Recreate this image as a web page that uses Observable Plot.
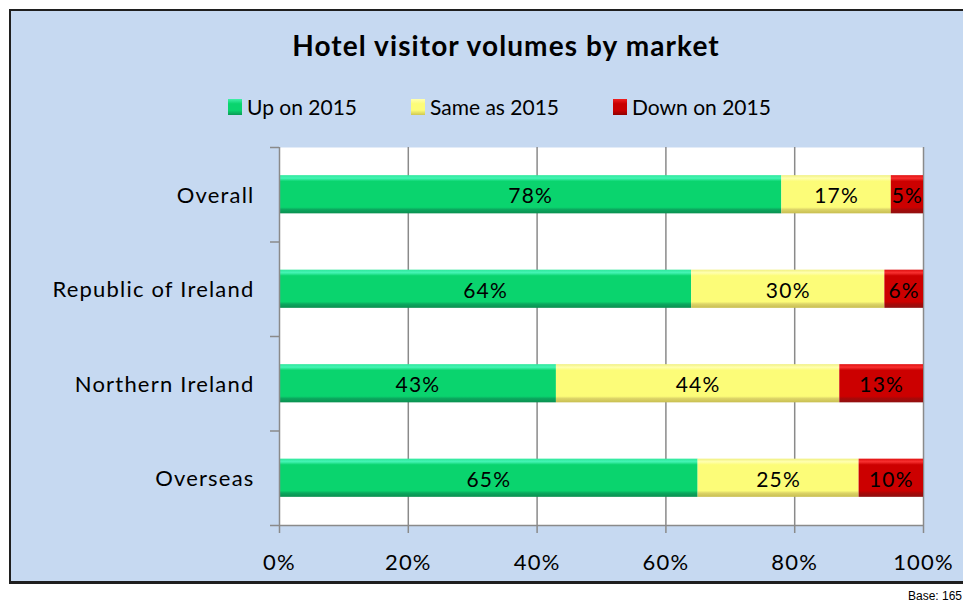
<!DOCTYPE html>
<html>
<head>
<meta charset="utf-8">
<script src="https://cdn.jsdelivr.net/npm/d3@7"></script>
<script src="https://cdn.jsdelivr.net/npm/@observablehq/plot@0.6"></script>
<style>
  html, body { margin: 0; padding: 0; background: #fff; overflow: hidden; }
  #wrap { position: relative; width: 963px; height: 608px; overflow: hidden; font-family: Lato, "Open Sans", sans-serif; }
  #frame { position: absolute; left: 9px; top: 9px; width: 1000px; height: 570px; background: #C6D9F1; border: 2px solid #1f1f1f; border-bottom-width: 3px; box-sizing: content-box; }
  #title { position: absolute; left: 0; width: 1012px; top: 28px; text-align: center; font-weight: bold; font-size: 28px; letter-spacing: 1.1px; color: #000; }
  .leg { position: absolute; top: 94px; font-size: 21px; color: #000; white-space: nowrap; line-height: 26px; }
  .sw { position: absolute; width: 14px; height: 16px; top: 5px; left: -19px; }
  #chart { position: absolute; left: 0; top: 0; }
  #chart svg text { letter-spacing: 1.2px; }
  #base { position: absolute; right: 1px; top: 589px; font-family: "Liberation Sans", Arial, sans-serif; font-size: 12px; color: #000; }
</style>
</head>
<body>
<div id="wrap">
  <div id="frame"></div>
  <div id="title">Hotel visitor volumes by market</div>
  <div id="legend"></div>
  <div id="chart"></div>
  <div id="base">Base: 165</div>
</div>
<script>
const categories = ["Overall", "Republic of Ireland", "Northern Ireland", "Overseas"];
const seriesNames = ["Up on 2015", "Same as 2015", "Down on 2015"];
const upOn2015   = [78, 64, 43, 65];
const sameAs2015 = [17, 30, 44, 25];
const downOn2015 = [5, 6, 13, 10];
const xTickValues = [0, 20, 40, 60, 80, 100];

const seriesValues = [upOn2015, sameAs2015, downOn2015];
const gradIds = ["gGreen", "gYellow", "gRed"];
const legendSwatch = [
  "linear-gradient(#40F0A8, #0AD46E 30%, #0AD46E 70%, #0A9A55)",
  "linear-gradient(#FFFFB0, #FCFC78 30%, #FCFC78 70%, #D0C850)",
  "linear-gradient(#F02020, #C80000 30%, #C80000 70%, #900000)"
];

// build stacked segments
const segments = [];
categories.forEach((c, i) => {
  let acc = 0;
  seriesValues.forEach((vals, s) => {
    const v = vals[i];
    segments.push({cat: c, idx: i, series: s, value: v, x1: acc, x2: acc + v});
    acc += v;
  });
});

const half = 0.202;
const gray = "#8a8a8a";

const marks = [
  Plot.frame({fill: "white", stroke: "none"}),
  Plot.gridX(xTickValues.filter(d => d > 0), {stroke: gray, strokeOpacity: 1, strokeWidth: 1.5}),
];
seriesNames.forEach((name, s) => {
  marks.push(Plot.rectX(segments.filter(d => d.series === s), {
    x1: "x1", x2: "x2",
    y1: d => d.idx - half, y2: d => d.idx + half,
    fill: `url(#${gradIds[s]})`
  }));
});
marks.push(
  Plot.text(segments, {
    x: d => (d.x1 + d.x2) / 2, y: "idx",
    text: d => d.value + "%", fontSize: 21, fill: "black", dy: 2
  }),
  Plot.ruleX([0], {stroke: gray, strokeWidth: 1.5}),
  Plot.ruleY([3.5], {stroke: gray, strokeWidth: 1.5}),
  Plot.axisX({ticks: xTickValues, tickFormat: d => d + "%", tickSize: 8, tickPadding: 21, fontSize: 22, stroke: gray, strokeWidth: 1.5, label: null, color: "black"}),
  Plot.axisY({ticks: [0, 1, 2, 3], tickFormat: i => categories[i], tickSize: 0, tickPadding: 25, fontSize: 22, label: null, fill: "black", dy: 1}),
  Plot.axisY({ticks: [-0.5, 0.5, 1.5, 2.5, 3.5], tickFormat: () => "", tickSize: 9, stroke: gray, strokeWidth: 1.5, label: null})
);

const svg = Plot.plot({
  width: 963, height: 608,
  marginLeft: 279, marginRight: 40, marginTop: 147, marginBottom: 83,
  style: {background: "transparent", fontFamily: "Lato, 'Open Sans', sans-serif", color: "black"},
  x: {domain: [0, 100]},
  y: {domain: [-0.5, 3.5], reverse: true},
  marks
});

// gradients for bevel look
const ns = "http://www.w3.org/2000/svg";
const defs = document.createElementNS(ns, "defs");
const gradStops = [
  [["0", "#2FE89C"], ["0.08", "#44F4B4"], ["0.16", "#0AD46E"], ["0.84", "#0AD46E"], ["0.9", "#0BA85E"], ["1", "#0A9050"]],
  [["0", "#F0F080"], ["0.08", "#FFFFB0"], ["0.16", "#FCFC78"], ["0.84", "#FCFC78"], ["0.9", "#DCD468"], ["1", "#C8BE50"]],
  [["0", "#E01010"], ["0.08", "#F83030"], ["0.16", "#CC0000"], ["0.84", "#CC0000"], ["0.9", "#A80808"], ["1", "#901010"]]
];
gradIds.forEach((id, s) => {
  const g = document.createElementNS(ns, "linearGradient");
  g.setAttribute("id", id);
  g.setAttribute("x1", "0"); g.setAttribute("y1", "0");
  g.setAttribute("x2", "0"); g.setAttribute("y2", "1");
  gradStops[s].forEach(([o, c]) => {
    const st = document.createElementNS(ns, "stop");
    st.setAttribute("offset", o); st.setAttribute("stop-color", c);
    g.appendChild(st);
  });
  defs.appendChild(g);
});
svg.insertBefore(defs, svg.firstChild);
document.getElementById("chart").appendChild(svg);

// legend
const legendLeft = [247, 430, 632];
const legend = document.getElementById("legend");
seriesNames.forEach((name, s) => {
  const item = document.createElement("div");
  item.className = "leg";
  item.style.left = legendLeft[s] + "px";
  item.textContent = name;
  const sw = document.createElement("span");
  sw.className = "sw";
  sw.style.background = legendSwatch[s];
  item.appendChild(sw);
  legend.appendChild(item);
});
</script>
</body>
</html>
